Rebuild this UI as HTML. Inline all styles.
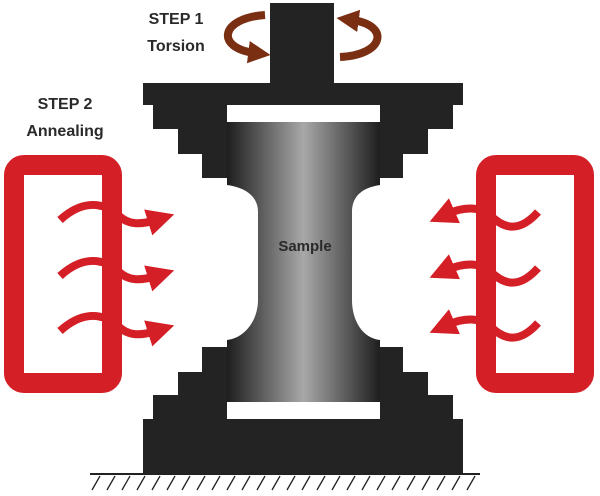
<!DOCTYPE html>
<html><head><style>
html,body{margin:0;padding:0;background:#fff;}
svg{display:block;}
text{font-family:"Liberation Sans",sans-serif;font-weight:bold;fill:#2a2a2a;}
</style></head><body>
<svg width="600" height="496" viewBox="0 0 600 496">
<defs>
<linearGradient id="g" x1="0" x2="1" y1="0" y2="0">
<stop offset="0" stop-color="#1e1e1e"/>
<stop offset="0.5" stop-color="#a8a8a8"/>
<stop offset="1" stop-color="#1e1e1e"/>
</linearGradient>
<marker id="ah" viewBox="0 0 10 10" refX="3" refY="5" markerWidth="3.4" markerHeight="3.4" orient="auto">
<path d="M0,0 L10,5 L0,10 z" fill="#d41f26"/>
</marker>
<marker id="bh" viewBox="0 0 10 10" refX="3" refY="5" markerWidth="2.8" markerHeight="2.8" orient="auto">
<path d="M0,0 L10,5 L0,10 z" fill="#7a2e12"/>
</marker>
</defs>
<g fill="#232323">
<rect x="270" y="3" width="64" height="82"/>
<rect x="143" y="83" width="320" height="22"/>
<rect x="153" y="105" width="74" height="24"/>
<rect x="178" y="129" width="49" height="25"/>
<rect x="202" y="154" width="25" height="24"/>
<rect x="380" y="105" width="73" height="24"/>
<rect x="380" y="129" width="48" height="25"/>
<rect x="380" y="154" width="23" height="24"/>
<rect x="202" y="347" width="25" height="25"/>
<rect x="178" y="372" width="49" height="23"/>
<rect x="153" y="395" width="74" height="24"/>
<rect x="380" y="347" width="23" height="25"/>
<rect x="380" y="372" width="48" height="23"/>
<rect x="380" y="395" width="73" height="24"/>
<rect x="143" y="419" width="320" height="54"/>
</g>
<path d="M227,122 H380 V185 C360,188 352,198 352,212 V300 C352,320 362,338 380,340 V402 H227 V340 C245,338 258,320 258,300 V212 C258,198 248,188 227,185 Z" fill="url(#g)"/>
<line x1="90" y1="474" x2="480" y2="474" stroke="#222" stroke-width="2"/>
<g stroke="#222" stroke-width="1.3">
<path d="M100,476 l-8,14 M115,476 l-8,14 M130,476 l-8,14 M145,476 l-8,14 M160,476 l-8,14 M175,476 l-8,14 M190,476 l-8,14 M205,476 l-8,14 M220,476 l-8,14 M235,476 l-8,14 M250,476 l-8,14 M265,476 l-8,14 M280,476 l-8,14 M295,476 l-8,14 M310,476 l-8,14 M325,476 l-8,14 M340,476 l-8,14 M355,476 l-8,14 M370,476 l-8,14 M385,476 l-8,14 M400,476 l-8,14 M415,476 l-8,14 M430,476 l-8,14 M445,476 l-8,14 M460,476 l-8,14 M475,476 l-8,14"/>
</g>
<text x="305" y="251" font-size="15" text-anchor="middle">Sample</text>
<text x="176" y="24" font-size="16" text-anchor="middle">STEP 1</text>
<text x="176" y="51" font-size="16" text-anchor="middle">Torsion</text>
<text x="65" y="109" font-size="16" text-anchor="middle">STEP 2</text>
<text x="65" y="136" font-size="16" text-anchor="middle">Annealing</text>
<path d="M265,15 C220,18 215,48 255,53" fill="none" stroke="#7a2e12" stroke-width="8" marker-end="url(#bh)"/>
<path d="M340,57 C385,55 390,25 352,20" fill="none" stroke="#7a2e12" stroke-width="8" marker-end="url(#bh)"/>
<rect x="14" y="165" width="98" height="218" rx="10" fill="none" stroke="#d41f26" stroke-width="20"/>
<rect x="486" y="165" width="98" height="218" rx="10" fill="none" stroke="#d41f26" stroke-width="20"/>
<g fill="none" stroke="#d41f26" stroke-width="8">
<path d="M60,220 C80,202 100,200 118,215 C128,225 140,225 156,220" marker-end="url(#ah)"/>
<path d="M60,276 C80,258 100,256 118,271 C128,281 140,281 156,276" marker-end="url(#ah)"/>
<path d="M60,331 C80,313 100,311 118,326 C128,336 140,336 156,331" marker-end="url(#ah)"/>
<path d="M538,212 C520,232 505,230 490,215 C480,207 465,206 447,214" marker-end="url(#ah)"/>
<path d="M538,268 C520,288 505,286 490,271 C480,263 465,262 447,270" marker-end="url(#ah)"/>
<path d="M538,323 C520,343 505,341 490,326 C480,318 465,317 447,325" marker-end="url(#ah)"/>
</g>
</svg>
</body></html>
